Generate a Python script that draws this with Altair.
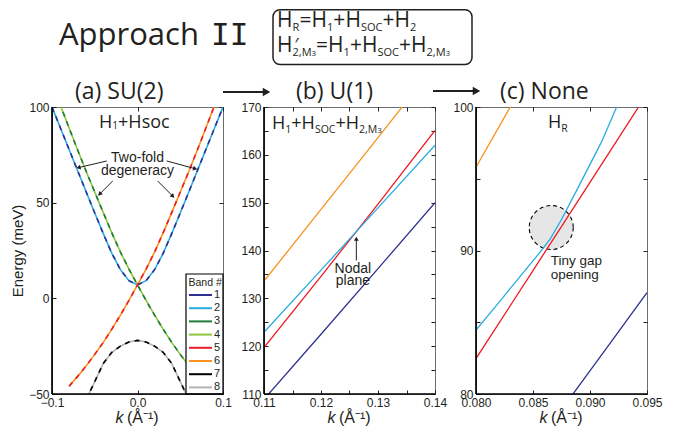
import math
import altair as alt
import pandas as pd

INK = "#231f20"
SANS = "Open Sans"
AX = "Liberation Sans"

band_names = ["1", "2", "3", "4", "5", "6", "7", "8"]
band_colors = ["#2e3192", "#29abe2", "#1e7b3b", "#8cc63f", "#ed1c24", "#f7931e", "#000000", "#b3b3b3"]

# ---------------- panel (a): SU(2), H1 + Hsoc (pairs are degenerate) ----------------
ka_12 = [-0.10, -0.09, -0.08, -0.07, -0.06, -0.05, -0.04, -0.03, -0.02, -0.01, 0.00,
         0.01, 0.02, 0.03, 0.04, 0.05, 0.06, 0.07, 0.08, 0.09, 0.10]
Ea_12 = [100.0, 88.9, 77.8, 66.7, 55.6, 44.6, 33.8, 23.5, 15.0, 9.2, 7.0,
         9.2, 15.0, 23.5, 33.8, 44.6, 55.6, 66.7, 77.8, 88.9, 100.0]
ka_34 = [-0.10, -0.09, -0.08, -0.07, -0.06, -0.05, -0.04, -0.03, -0.02, -0.01, 0.00,
         0.01, 0.02, 0.03, 0.04, 0.05, 0.06, 0.07, 0.08]
Ea_34 = [112.0, 100.7, 89.0, 77.5, 66.3, 55.5, 44.8, 34.2, 24.2, 15.3, 7.0,
         -1.1, -8.8, -16.1, -23.0, -29.3, -35.3, -40.8, -45.9]
ka_56 = [-0.08, -0.07, -0.06, -0.05, -0.04, -0.03, -0.02, -0.01, 0.00,
         0.01, 0.02, 0.03, 0.04, 0.05, 0.06, 0.07, 0.08, 0.09, 0.10]
Ea_56 = [-45.9, -40.8, -35.3, -29.3, -23.0, -16.1, -8.8, -1.1, 7.0,
         15.3, 24.2, 34.2, 44.8, 55.5, 66.3, 77.5, 89.0, 100.7, 112.0]
ka_78 = [-0.06, -0.05, -0.04, -0.03, -0.02, -0.01, 0.00, 0.01, 0.02, 0.03, 0.04, 0.05, 0.06]
Ea_78 = [-53.0, -43.5, -34.0, -28.2, -25.0, -22.8, -22.0, -22.8, -25.0, -28.2, -34.0, -43.5, -53.0]

# ---------------- panel (b): U(1), H1 + HSOC + H2,M3 ----------------
kb_6 = [0.110, 0.120, 0.130, 0.1345]
Eb_6 = [133.6, 148.6, 163.6, 170.4]
kb_2 = [0.110, 0.120, 0.130, 0.140]
Eb_2 = [122.9, 135.9, 148.9, 162.0]
kb_5 = [0.110, 0.120, 0.130, 0.140]
Eb_5 = [119.7, 134.6, 149.7, 165.1]
kb_1 = [0.110, 0.120, 0.130, 0.140]
Eb_1 = [108.9, 122.5, 136.2, 150.0]

# ---------------- panel (c): none, H_R ----------------
kc_6 = [0.0795, 0.0835]
Ec_6 = [95.1, 100.7]
kc_2 = [0.0800, 0.0820, 0.0840, 0.0855, 0.0865, 0.0875, 0.0890, 0.0910, 0.0925]
Ec_2 = [84.45, 86.37, 88.32, 89.76, 90.79, 92.16, 94.45, 97.55, 100.3]
kc_5 = [0.0800, 0.0850, 0.0865, 0.0900, 0.0945]
Ec_5 = [82.47, 88.60, 90.45, 94.75, 100.3]
kc_1 = [0.0880, 0.0915, 0.0950]
Ec_1 = [79.45, 83.25, 87.06]

# annotations (data coordinates)
a_arrow_tail_k = [-0.036, 0.034, -0.029, 0.0236]
a_arrow_tail_E = [71.8, 71.8, 61.3, 61.3]
a_arrow_head_k = [-0.072, 0.0704, -0.0465, 0.0435]
a_arrow_head_E = [68.0, 67.4, 53.5, 52.4]
b_arrow_tail = (0.1262, 137.9)
b_arrow_head = (0.1262, 143.0)
c_circle = (0.0866, 91.6)

W, H = 171, 287
OPEN_W = {"H": 0.74, "R": 0.635, "S": 0.547, "O": 0.778, "C": 0.631, "M": 0.905, "=": 0.572,
          "+": 0.572, ",": 0.245, "1": 0.572, "2": 0.572, "3": 0.572, "s": 0.477, "o": 0.604,
          "c": 0.478, "′": 0.25}


def rich_rows(parts, x0, y0, to_x, to_y):
    rows, off = [], 0.0
    for p in parts:
        text, size, dy = p[0], p[1], p[2]
        rows.append({"x": to_x(x0, off), "y": to_y(y0, dy), "text": text, "size": size})
        adv = p[3] if len(p) > 3 else sum(OPEN_W.get(ch, 0.6) for ch in text) * size
        off += adv
    return rows


def text_layer(rows, xs, ys, font=SANS, align="left", style="normal", **kw):
    return alt.Chart(pd.DataFrame(rows)).mark_text(
        align=align, baseline="alphabetic", font=font, color=INK, fontStyle=style, **kw
    ).encode(
        x=alt.X("x:Q", scale=xs, axis=None),
        y=alt.Y("y:Q", scale=ys, axis=None),
        text="text:N",
        size=alt.Size("size:Q", scale=None, legend=None),
    )


def arrows(tk, tE, hk, hE, xs, ys, xdom, ydom, head_size=24, width=1.0):
    sx = W / (xdom[1] - xdom[0])
    sy = H / (ydom[1] - ydom[0])
    shafts, heads = [], []
    for a, b, c, d in zip(tk, tE, hk, hE):
        dx = (c - a) * sx
        dy = -(d - b) * sy
        L = math.hypot(dx, dy)
        ux, uy = dx / L, dy / L
        ang = math.degrees(math.atan2(dx, -dy)) % 360
        back = 2.6
        ck = c - ux * back / sx
        cE = d + uy * back / sy
        shafts.append({"x": a, "y": b, "x2": c - ux * 3 / sx, "y2": d + uy * 3 / sy})
        heads.append({"x": ck, "y": cE, "ang": ang})
    s = alt.Chart(pd.DataFrame(shafts)).mark_rule(color=INK, strokeWidth=width).encode(
        x=alt.X("x:Q", scale=xs, axis=None), y=alt.Y("y:Q", scale=ys, axis=None), x2="x2:Q", y2="y2:Q")
    hd = alt.Chart(pd.DataFrame(heads)).mark_point(shape="triangle-up", filled=True, color=INK,
                                                   size=head_size, opacity=1).encode(
        x=alt.X("x:Q", scale=xs, axis=None), y=alt.Y("y:Q", scale=ys, axis=None),
        angle=alt.Angle("ang:Q", scale=None))
    return [s, hd]


def axis_layers(xs, ys, xdom, ydom, xvals, yvals):
    corners = pd.DataFrame({"k": xdom, "E": ydom})
    sec = alt.Chart(corners).mark_point(opacity=0).encode(
        x=alt.X("k:Q", scale=xs, axis=alt.Axis(orient="top", values=xvals, labels=False, offset=-4,
                                               tickSize=4, tickColor=INK, domain=False, grid=False, title=None)),
        y=alt.Y("E:Q", scale=ys, axis=alt.Axis(orient="right", values=yvals, labels=False, offset=-4,
                                               tickSize=4, tickColor=INK, domain=False, grid=False, title=None)))
    left = alt.Chart(corners).mark_rule(color="black", strokeWidth=1.2).encode(
        x=alt.X(datum=xdom[0], scale=xs, axis=None))
    bottom = alt.Chart(corners).mark_rule(color="black", strokeWidth=1.2).encode(
        y=alt.Y(datum=ydom[0], scale=ys, axis=None))
    return [sec, left, bottom]


def main_axes(xvals, xexpr, yvals, yexpr, ytitle=None):
    ax = alt.Axis(orient="bottom", values=xvals, labelExpr=xexpr, offset=-4, tickSize=4, tickColor=INK,
                  domain=False, grid=False, title=None, labelPadding=3, labelFont=AX, labelFontSize=12,
                  labelColor=INK, labelFlush=False, labelOverlap=False)
    yk = dict(orient="left", values=yvals, labelExpr=yexpr, offset=-4, tickSize=4, tickColor=INK,
              domain=False, grid=False, labelPadding=3, labelFont=AX, labelFontSize=12,
              labelColor=INK, labelFlush=False, labelOverlap=False)
    if ytitle:
        yk.update(title=ytitle, titleFont=AX, titleFontSize=15, titleFontWeight="normal",
                  titleColor=INK, titlePadding=3)
    else:
        yk.update(title=None)
    return ax, alt.Axis(**yk)


def ktitle():
    k = alt.Chart(pd.DataFrame({"t": ["k"]})).mark_text(
        align="left", baseline="alphabetic", font=AX, fontSize=16, fontStyle="italic", color=INK
    ).encode(x=alt.value(W / 2 - 22), y=alt.value(H + 29), text="t:N")
    u = alt.Chart(pd.DataFrame({"t": ["(Å⁻¹)"]})).mark_text(
        align="left", baseline="alphabetic", font=AX, fontSize=16, color=INK
    ).encode(x=alt.value(W / 2 - 10.5), y=alt.value(H + 29), text="t:N")
    return [k, u]


def lines_df(spec):
    rows = []
    for name, ks, Es, col in spec:
        for k, e in zip(ks, Es):
            rows.append({"band": name, "k": k, "E": e, "col": col})
    return pd.DataFrame(rows)


def band_legend():
    # legend box drawn inside the bottom-right corner of panel (a)
    x0, x1, y0, y1 = W - 37, W, H - 120, H
    frame = alt.Chart(pd.DataFrame([{"a": 0}])).mark_rect(
        fill="white", stroke="black", strokeWidth=1.2
    ).encode(x=alt.value(x0), x2=alt.value(x1), y=alt.value(y0), y2=alt.value(y1))
    ent = pd.DataFrame({"band": band_names, "col": band_colors,
                        "yp": [y0 + 21 + 13.2 * i for i in range(len(band_names))]})
    sym = alt.Chart(ent).mark_rule(strokeWidth=2).encode(
        x=alt.value(x0 + 3), x2=alt.value(x0 + 26),
        y=alt.Y("yp:Q", scale=None), color=alt.Color("col:N", scale=None))
    lab = alt.Chart(ent).mark_text(align="left", baseline="middle", font=AX, fontSize=11, color=INK).encode(
        x=alt.value(x0 + 28), y=alt.Y("yp:Q", scale=None), text="band:N")
    ttl = alt.Chart(pd.DataFrame({"t": ["Band #"]})).mark_text(
        align="left", baseline="middle", font=AX, fontSize=10.5, color=INK
    ).encode(x=alt.value(x0 + 2.5), y=alt.value(y0 + 8.5), text="t:N")
    return [frame, sym, lab, ttl]


# ================= panel (a) =================
xa_dom, ya_dom = [-0.1, 0.1], [-50, 100]
xa = alt.Scale(domain=xa_dom, nice=False, zero=False)
ya = alt.Scale(domain=ya_dom, nice=False, zero=False)
even = lines_df([("2", ka_12, Ea_12, band_colors[1]), ("4", ka_34, Ea_34, band_colors[3]),
                 ("6", ka_56, Ea_56, band_colors[5]), ("8", ka_78, Ea_78, band_colors[7])])
odd = lines_df([("1", ka_12, Ea_12, band_colors[0]), ("3", ka_34, Ea_34, band_colors[2]),
                ("5", ka_56, Ea_56, band_colors[4]), ("7", ka_78, Ea_78, band_colors[6])])
axa, aya = main_axes([-0.1, 0.0, 0.1], "format(datum.value, '.1f')", [-50, 0, 50, 100],
                     "format(datum.value, 'd')", "Energy (meV)")
a_base = alt.Chart(even).mark_line(strokeWidth=1.6, clip=True).encode(
    x=alt.X("k:Q", scale=xa, axis=axa), y=alt.Y("E:Q", scale=ya, axis=aya),
    color=alt.Color("col:N", scale=None), detail="band:N")
a_dash = alt.Chart(odd).mark_line(strokeWidth=1.6, clip=True, strokeDash=[5, 5]).encode(
    x=alt.X("k:Q", scale=xa, axis=None), y=alt.Y("E:Q", scale=ya, axis=None),
    color=alt.Color("col:N", scale=None), detail="band:N")
sxa, sya = (xa_dom[1] - xa_dom[0]) / W, (ya_dom[1] - ya_dom[0]) / H
a_label = text_layer(rich_rows([("H", 18, 0), ("1", 10, 1), ("+Hsoc", 18, 0)], -0.045, 89.0,
                               lambda x0, o: x0 + o * sxa, lambda y0, d: y0 - d * sya), xa, ya)
a_note = alt.Chart(pd.DataFrame({"k": [0.0], "E": [71.3], "t": ["Two-fold\ndegeneracy"]})).mark_text(
    align="center", baseline="alphabetic", font=AX, fontSize=14, lineBreak="\n", lineHeight=13.5, color=INK
).encode(x=alt.X("k:Q", scale=xa, axis=None), y=alt.Y("E:Q", scale=ya, axis=None), text="t:N")
pa = alt.layer(a_base, a_dash, a_label, a_note,
               *arrows(a_arrow_tail_k, a_arrow_tail_E, a_arrow_head_k, a_arrow_head_E, xa, ya, xa_dom, ya_dom),
               *band_legend(),
               *axis_layers(xa, ya, xa_dom, ya_dom, [-0.1, 0.0, 0.1], [-50, 0, 50, 100]),
               *ktitle()).resolve_axis(x="independent", y="independent").properties(width=W, height=H)

# ================= panel (b) =================
xb_dom, yb_dom = [0.11, 0.14], [110, 170]
xb = alt.Scale(domain=xb_dom, nice=False, zero=False)
yb = alt.Scale(domain=yb_dom, nice=False, zero=False)
xb_vals = [0.11, 0.115, 0.12, 0.125, 0.13, 0.135, 0.14]
yb_vals = [110, 115, 120, 125, 130, 135, 140, 145, 150, 155, 160, 165, 170]
axb, ayb = main_axes(xb_vals, "abs(datum.value*100 - round(datum.value*100)) < 1e-6 ? format(datum.value, '.2f') : ''",
                     yb_vals, "datum.value % 10 == 0 ? format(datum.value, 'd') : ''")
dfb = lines_df([("1", kb_1, Eb_1, band_colors[0]), ("5", kb_5, Eb_5, band_colors[4]),
                ("2", kb_2, Eb_2, band_colors[1]), ("6", kb_6, Eb_6, band_colors[5])])
b_lines = alt.Chart(dfb).mark_line(strokeWidth=1.3, clip=True).encode(
    x=alt.X("k:Q", scale=xb, axis=axb), y=alt.Y("E:Q", scale=yb, axis=ayb),
    color=alt.Color("col:N", scale=None), detail="band:N")
sxb, syb = (xb_dom[1] - xb_dom[0]) / W, (yb_dom[1] - yb_dom[0]) / H
b_label = text_layer(rich_rows([("H", 18, 0), ("1", 10.5, 4), ("+H", 18, 0), ("SOC", 10.5, 4), ("+H", 18, 0),
                                ("2,M", 10.5, 4), ("3", 8, 4)], 0.1114, 165.4,
                               lambda x0, o: x0 + o * sxb, lambda y0, d: y0 - d * syb), xb, yb)
b_note = alt.Chart(pd.DataFrame({"k": [0.1256], "E": [135.4], "t": ["Nodal\nplane"]})).mark_text(
    align="center", baseline="alphabetic", font=AX, fontSize=14, lineBreak="\n", lineHeight=12.5, color=INK
).encode(x=alt.X("k:Q", scale=xb, axis=None), y=alt.Y("E:Q", scale=yb, axis=None), text="t:N")
pb = alt.layer(b_lines, b_label, b_note,
               *arrows([b_arrow_tail[0]], [b_arrow_tail[1]], [b_arrow_head[0]], [b_arrow_head[1]], xb, yb, xb_dom, yb_dom),
               *axis_layers(xb, yb, xb_dom, yb_dom, xb_vals, yb_vals),
               *ktitle()).resolve_axis(x="independent", y="independent").properties(width=W, height=H)

# ================= panel (c) =================
xc_dom, yc_dom = [0.080, 0.095], [80, 100]
xc = alt.Scale(domain=xc_dom, nice=False, zero=False)
yc = alt.Scale(domain=yc_dom, nice=False, zero=False)
xc_vals = [0.080, 0.085, 0.090, 0.095]
yc_vals = [80, 85, 90, 95, 100]
axc, ayc = main_axes(xc_vals, "format(datum.value, '.3f')", yc_vals,
                     "datum.value % 10 == 0 ? format(datum.value, 'd') : ''")
circ = alt.Chart(pd.DataFrame({"k": [c_circle[0]], "E": [c_circle[1]]})).mark_point(
    shape="circle", filled=True, fill="#e6e6e6", fillOpacity=1, stroke="black", strokeOpacity=1,
    strokeWidth=1.1, strokeDash=[4, 3], size=1936, opacity=1
).encode(x=alt.X("k:Q", scale=xc, axis=None), y=alt.Y("E:Q", scale=yc, axis=None))
dfc = lines_df([("1", kc_1, Ec_1, band_colors[0]), ("5", kc_5, Ec_5, band_colors[4]),
                ("2", kc_2, Ec_2, band_colors[1]), ("6", kc_6, Ec_6, band_colors[5])])
c_lines = alt.Chart(dfc).mark_line(strokeWidth=1.3, clip=True).encode(
    x=alt.X("k:Q", scale=xc, axis=axc), y=alt.Y("E:Q", scale=yc, axis=ayc),
    color=alt.Color("col:N", scale=None), detail="band:N")
sxc, syc = (xc_dom[1] - xc_dom[0]) / W, (yc_dom[1] - yc_dom[0]) / H
c_label = text_layer(rich_rows([("H", 18, 0), ("R", 10.5, 4)], 0.08632, 98.54,
                               lambda x0, o: x0 + o * sxc, lambda y0, d: y0 - d * syc), xc, yc)
c_note = alt.Chart(pd.DataFrame({"k": [0.08655], "E": [88.97], "t": ["Tiny gap\nopening"]})).mark_text(
    align="left", baseline="alphabetic", font=AX, fontSize=13.5, lineBreak="\n", lineHeight=14, color=INK
).encode(x=alt.X("k:Q", scale=xc, axis=None), y=alt.Y("E:Q", scale=yc, axis=None), text="t:N")
pc = alt.layer(circ, c_lines, c_label, c_note,
               *axis_layers(xc, yc, xc_dom, yc_dom, xc_vals, yc_vals),
               *ktitle()).resolve_axis(x="independent", y="independent").properties(width=W, height=H)

# ================= header =================
hx = alt.Scale(domain=[52, 647], nice=False, zero=False)
hy = alt.Scale(domain=[8, 106], nice=False, zero=False, reverse=True)
ident = (lambda x0, o: x0 + o, lambda y0, d: y0 + d)
F, f, ff = 21, 11, 8
eq1 = rich_rows([("H", F, 0), ("R", f, 4), ("=H", F, 0), ("1", f, 4), ("+H", F, 0), ("SOC", f, 4),
                 ("+H", F, 0), ("2", f, 4)], 277, 26, *ident)
eq2 = rich_rows([("H", F, 0), ("′", 18, -1, 0), ("2,M", f, 4), ("3", ff, 4), ("=H", F, 0), ("1", f, 4),
                 ("+H", F, 0), ("SOC", f, 4), ("+H", F, 0), ("2,M", f, 4), ("3", ff, 4)], 277, 51, *ident)
for r in eq2:
    if r["text"] == "′":
        r["x"] += 2
titles = [{"x": 59, "y": 44, "text": "Approach", "size": 31},
          {"x": 75, "y": 98, "text": "(a) SU(2)", "size": 23},
          {"x": 296, "y": 98, "text": "(b) U(1)", "size": 23},
          {"x": 500, "y": 98, "text": "(c) None", "size": 23}]
box = alt.Chart(pd.DataFrame([{"x": 273, "x2": 472, "y": 8.7, "y2": 63.5}])).mark_rect(
    fillOpacity=0, stroke=INK, strokeWidth=1.5, cornerRadius=7
).encode(x=alt.X("x:Q", scale=hx, axis=None), x2="x2:Q", y=alt.Y("y:Q", scale=hy, axis=None), y2="y2:Q")
h_shaft = alt.Chart(pd.DataFrame([{"x": 223, "x2": 265, "y": 91}, {"x": 433, "x2": 475, "y": 90}])).mark_rule(
    color=INK, strokeWidth=2).encode(x=alt.X("x:Q", scale=hx, axis=None), x2="x2:Q",
                                     y=alt.Y("y:Q", scale=hy, axis=None))
h_head = alt.Chart(pd.DataFrame([{"x": 266.5, "y": 91}, {"x": 476.5, "y": 90}])).mark_point(
    shape="triangle-right", filled=True, color=INK, size=75, opacity=1
).encode(x=alt.X("x:Q", scale=hx, axis=None), y=alt.Y("y:Q", scale=hy, axis=None))
header = alt.layer(
    box, h_shaft, h_head,
    text_layer(titles, hx, hy),
    text_layer([{"x": 211, "y": 44, "text": "II", "size": 31}], hx, hy, font="DejaVu Sans Mono"),
    text_layer(eq1 + eq2, hx, hy),
).properties(width=595, height=98, view=alt.ViewBackground(stroke="transparent"))

row = alt.hconcat(pa, pb, pc, spacing=41, bounds="flush")
chart = alt.vconcat(header, row, spacing=0, bounds="flush").properties(
    padding={"left": 2, "top": 0, "right": 4, "bottom": 4}
).configure_view(stroke="#6d6d6d", strokeWidth=1)

chart.save("out.html", embed_options={"renderer": "svg", "actions": False})
